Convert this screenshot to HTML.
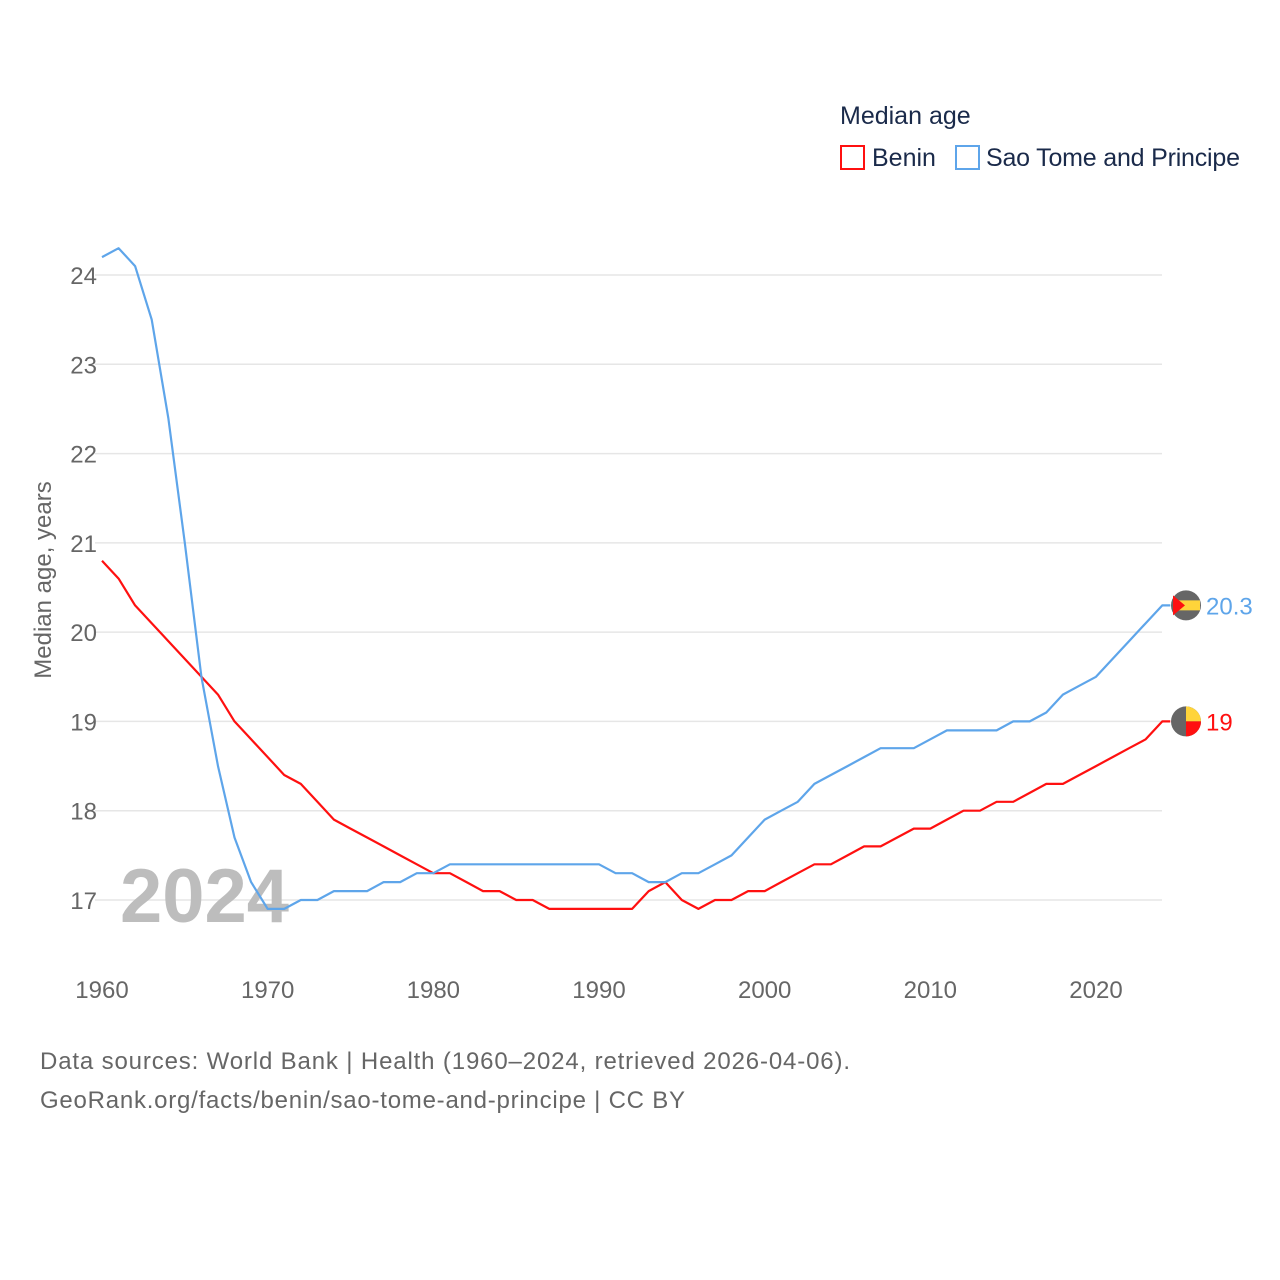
<!DOCTYPE html>
<html><head><meta charset="utf-8"><style>
body{margin:0;background:#fff;}
svg{display:block;font-family:"Liberation Sans",sans-serif;}
</style></head><body>
<svg id="chart" width="1280" height="1280" viewBox="0 0 1280 1280" xmlns="http://www.w3.org/2000/svg">
<rect width="1280" height="1280" fill="#fff"/>
<g id="grid"></g>
<g id="yticks"></g>
<g id="xticks"></g>
<text x="120" y="922" font-size="76" font-weight="bold" fill="#bdbdbd">2024</text>
<g id="series"></g>
<text transform="translate(51,580) rotate(-90)" text-anchor="middle" font-size="24" fill="#666">Median age, years</text>
<text x="840" y="124" font-size="25" fill="#1a2a4a">Median age</text>
<g>
<rect x="841" y="146" width="23" height="23" fill="none" stroke="#ff1010" stroke-width="2"/>
<text x="872" y="166" font-size="25" fill="#1a2a4a">Benin</text></g>
<g>
<rect x="956" y="146" width="23" height="23" fill="none" stroke="#5ea5ea" stroke-width="2"/>
<text x="986" y="166" font-size="25" fill="#1a2a4a" textLength="254">Sao Tome and Principe</text></g>
<text x="40" y="1069" font-size="24" fill="#666" textLength="810">Data sources: World Bank | Health (1960–2024, retrieved 2026-04-06).</text>
<text x="40" y="1108" font-size="24" fill="#666" textLength="645">GeoRank.org/facts/benin/sao-tome-and-principe | CC BY</text>
</svg>
<script>
const years=[];for(let y=1960;y<=2024;y++)years.push(y);
const benin=[20.8,20.6,20.3,20.1,19.9,19.7,19.5,19.3,19.0,18.8,18.6,18.4,18.3,18.1,17.9,17.8,17.7,17.6,17.5,17.4,17.3,17.3,17.2,17.1,17.1,17.0,17.0,16.9,16.9,16.9,16.9,16.9,16.9,17.1,17.2,17.0,16.9,17.0,17.0,17.1,17.1,17.2,17.3,17.4,17.4,17.5,17.6,17.6,17.7,17.8,17.8,17.9,18.0,18.0,18.1,18.1,18.2,18.3,18.3,18.4,18.5,18.6,18.7,18.8,19.0];
const stp=[24.2,24.3,24.1,23.5,22.4,21.0,19.5,18.5,17.7,17.2,16.9,16.9,17.0,17.0,17.1,17.1,17.1,17.2,17.2,17.3,17.3,17.4,17.4,17.4,17.4,17.4,17.4,17.4,17.4,17.4,17.4,17.3,17.3,17.2,17.2,17.3,17.3,17.4,17.5,17.7,17.9,18.0,18.1,18.3,18.4,18.5,18.6,18.7,18.7,18.7,18.8,18.9,18.9,18.9,18.9,19.0,19.0,19.1,19.3,19.4,19.5,19.7,19.9,20.1,20.3];
const yTicks=[17,18,19,20,21,22,23,24];
const xTicks=[1960,1970,1980,1990,2000,2010,2020];
const NS="http://www.w3.org/2000/svg";
const xs=y=>102+(y-1960)*(994/60);
const ys=v=>900-(v-17)*(625/7);
function mk(tag,attrs,parent){const e=document.createElementNS(NS,tag);for(const k in attrs)e.setAttribute(k,attrs[k]);parent.appendChild(e);return e;}
const grid=document.getElementById('grid'),yt=document.getElementById('yticks'),xt=document.getElementById('xticks'),ser=document.getElementById('series');
yTicks.forEach(v=>{
 const l=mk('line',{x1:95,x2:1162,y1:ys(v),y2:ys(v),stroke:'#e6e6e6','stroke-width':1.5},grid);
 
 
 const t=mk('text',{x:97,y:ys(v)+9,'text-anchor':'end','font-size':24,fill:'#666'},yt);
 t.textContent=v;
 
 
});
xTicks.forEach(v=>{
 const t=mk('text',{x:xs(v),y:998,'text-anchor':'middle','font-size':24,fill:'#666'},xt);
 t.textContent=v;
 
 
});
function line(data,color,name){
 let d=data.map((v,i)=>(i?'L':'M')+xs(years[i]).toFixed(1)+' '+ys(v).toFixed(1)).join(' ');
 d+=' L'+(xs(years[years.length-1])+8).toFixed(1)+' '+ys(data[data.length-1]).toFixed(1);
 const p=mk('path',{d:d,fill:'none',stroke:color,'stroke-width':2.2,'stroke-linejoin':'round'},ser);
 
 
}
line(benin,'#ff1010','line-benin');
line(stp,'#5ea5ea','line-sao-tome');
const bY=ys(benin[benin.length-1]),sY=ys(stp[stp.length-1]),cx=1186;
const gb=mk('g',{},ser);


mk('circle',{cx:cx,cy:bY,r:15,fill:'#666'},gb);
mk('path',{d:`M${cx} ${bY-15} A15 15 0 0 1 ${cx+15} ${bY} L${cx} ${bY} Z`,fill:'#ffd43a'},gb);
mk('path',{d:`M${cx+15} ${bY} A15 15 0 0 1 ${cx} ${bY+15} L${cx} ${bY} Z`,fill:'#ff1010'},gb);
const gs=mk('g',{},ser);


mk('circle',{cx:cx,cy:sY,r:15,fill:'#666'},gs);
mk('rect',{x:cx-13,y:sY-5,width:27,height:10,fill:'#ffd43a'},gs);
mk('path',{d:`M${cx-13} ${sY-10} L${cx-1} ${sY} L${cx-13} ${sY+10} Z`,fill:'#ff1010'},gs);
const lb=mk('text',{x:1206,y:bY+9,'font-size':24,fill:'#ff1010'},ser);
lb.textContent=benin[benin.length-1];


const ls=mk('text',{x:1206,y:sY+9,'font-size':24,fill:'#5ea5ea'},ser);
ls.textContent=stp[stp.length-1];


</script>
</body></html>
